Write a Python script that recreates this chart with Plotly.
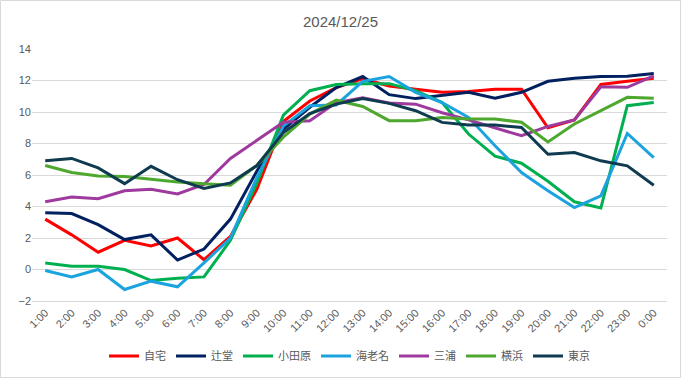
import plotly.graph_objects as go

hours = ["1:00", "2:00", "3:00", "4:00", "5:00", "6:00", "7:00", "8:00", "9:00", "10:00",
         "11:00", "12:00", "13:00", "14:00", "15:00", "16:00", "17:00", "18:00", "19:00",
         "20:00", "21:00", "22:00", "23:00", "0:00"]

jitaku = [3.2, 2.2, 1.1, 1.85, 1.5, 2.0, 0.62, 2.1, 5.1, 9.4, 10.7, 11.55, 12.1, 11.65,
          11.45, 11.25, 11.3, 11.45, 11.45, 9.0, 9.5, 11.75, 11.95, 12.15]
tsujido = [3.6, 3.55, 2.85, 1.9, 2.2, 0.6, 1.3, 3.2, 6.25, 8.9, 10.3, 11.55, 12.25, 11.1,
           10.85, 11.05, 11.25, 10.87, 11.25, 11.95, 12.14, 12.25, 12.27, 12.45]
odawara = [0.42, 0.21, 0.21, 0.0, -0.7, -0.55, -0.47, 1.85, 5.5, 9.8, 11.35, 11.75, 11.8, 11.8,
           11.35, 10.6, 8.6, 7.2, 6.75, 5.6, 4.3, 3.9, 10.4, 10.6]
ebina = [-0.06, -0.47, 0.0, -1.27, -0.74, -1.1, 0.42, 2.0, 5.85, 9.1, 10.4, 10.45, 11.95, 12.25,
         11.25, 10.6, 9.66, 7.86, 6.16, 5.0, 3.93, 4.67, 8.64, 7.1]
miura = [4.3, 4.6, 4.5, 5.0, 5.1, 4.8, 5.4, 7.05, 8.2, 9.35, 9.45, 10.6, 10.9, 10.57,
         10.5, 9.95, 9.5, 9.02, 8.49, 9.09, 9.5, 11.6, 11.57, 12.3]
yokohama = [6.6, 6.16, 5.94, 5.9, 5.73, 5.56, 5.45, 5.35, 6.6, 8.4, 9.87, 10.75, 10.35, 9.45,
            9.45, 9.65, 9.55, 9.55, 9.35, 8.1, 9.24, 10.08, 10.93, 10.87]
tokyo = [6.9, 7.05, 6.45, 5.45, 6.55, 5.7, 5.15, 5.5, 6.6, 8.7, 9.9, 10.5, 10.85, 10.55,
         10.08, 9.34, 9.17, 9.17, 9.02, 7.32, 7.43, 6.9, 6.58, 5.35]

series_names = ["自宅", "辻堂", "小田原", "海老名", "三浦", "横浜", "東京"]
series_values = [jitaku, tsujido, odawara, ebina, miura, yokohama, tokyo]
series_colors = ["#FF0000", "#002060", "#00B050", "#1AA3DE", "#9E3A9E", "#4EA72E", "#0E3B4F"]

y_ticks = [-2, 0, 2, 4, 6, 8, 10, 12, 14]
title_text = "2024/12/25"

fig = go.Figure()
for name, vals, col in zip(series_names, series_values, series_colors):
    fig.add_trace(go.Scatter(x=hours, y=vals, name=name, mode="lines",
                             line=dict(color=col, width=3)))

W, H = 681, 378
L, R, T, B = 32, 14, 49, 77
pw = W - L - R
ph = H - T - B

fig.update_layout(
    width=W, height=H,
    margin=dict(l=L, r=R, t=T, b=B, pad=0, autoexpand=False),
    paper_bgcolor="white", plot_bgcolor="white",
    font=dict(family="Liberation Sans, Noto Sans CJK JP, sans-serif", color="#595959", size=11),
    title=dict(text=title_text, x=0.5, xanchor="center", y=1 - 22 / H, yanchor="middle",
               font=dict(size=15, color="#595959")),
    showlegend=True,
    legend=dict(orientation="h", x=0.5, xanchor="center", y=-(356 - (T + ph)) / ph,
                yanchor="middle", font=dict(size=11, color="#595959",
                                            family="Noto Sans CJK JP, sans-serif"),
                itemwidth=30, tracegroupgap=0, bgcolor="rgba(0,0,0,0)"),
    xaxis=dict(type="category", range=[-0.5, 23.5], tickangle=-45, showgrid=False,
               zeroline=False, showline=True, linecolor="#D9D9D9", linewidth=1,
               ticks="", automargin=False, tickfont=dict(size=11, color="#595959")),
    yaxis=dict(range=[-2, 14], tickvals=y_ticks, showgrid=True, gridcolor="#D9D9D9",
               gridwidth=1, zeroline=False, showline=False, ticks="", automargin=False,
               tickfont=dict(size=11, color="#595959")),
    shapes=[dict(type="rect", xref="paper", yref="paper",
                 x0=(0.5 - L) / pw, x1=(W - 0.5 - L) / pw,
                 y0=-(H - 0.5 - T - ph) / ph, y1=(T + ph - 0.5) / ph,
                 line=dict(color="#D9D9D9", width=1), layer="below")],
)

fig.write_html("out.html", config={"displayModeBar": False},
               post_script="document.body.style.margin='0';document.body.style.overflow='hidden';")
